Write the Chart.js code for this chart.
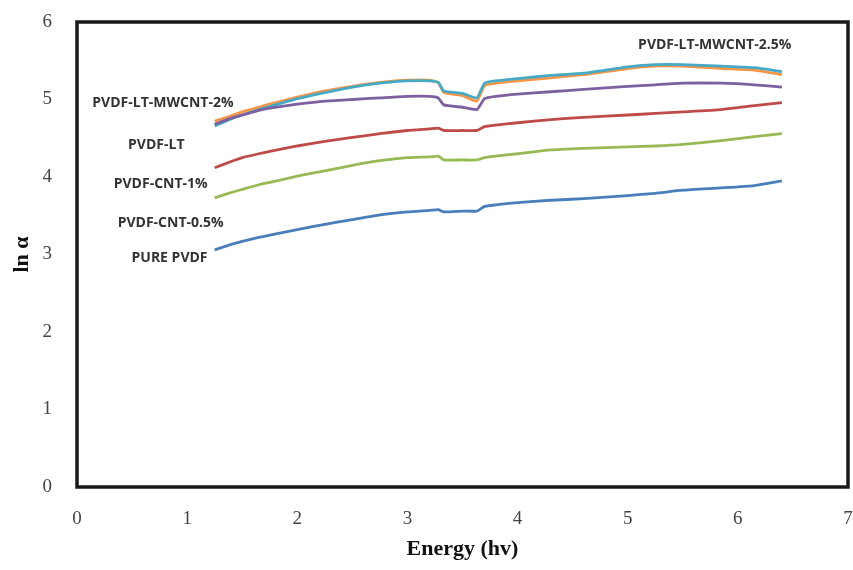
<!DOCTYPE html>
<html>
<head>
<meta charset="utf-8">
<script src="https://cdn.jsdelivr.net/npm/chart.js@4.4.1/dist/chart.umd.min.js"></script>
<style>
  html, body { margin: 0; padding: 0; background: #fff; }
  #wrap { width: 853px; height: 570px; }
</style>
</head>
<body>
<div id="wrap"><canvas id="absChart" width="853" height="570"></canvas></div>
<script>
// photon energy (eV), shared by every sample
const energy = [1.25, 1.4, 1.5, 1.65, 1.75, 2.0, 2.25, 2.5, 2.75, 3.0, 3.2, 3.28, 3.33, 3.5, 3.63, 3.7, 3.8, 4.0, 4.3, 4.6, 5.0, 5.25, 5.5, 5.85, 6.15, 6.4];

// ln(alpha) per sample
const purePvdf = [3.06, 3.13, 3.17, 3.22, 3.25, 3.32, 3.39, 3.45, 3.51, 3.55, 3.57, 3.58, 3.55, 3.56, 3.56, 3.62, 3.64, 3.67, 3.70, 3.72, 3.76, 3.79, 3.83, 3.86, 3.89, 3.95];
const pvdfCnt05 = [3.73, 3.80, 3.84, 3.90, 3.93, 4.01, 4.08, 4.15, 4.21, 4.25, 4.26, 4.27, 4.22, 4.22, 4.22, 4.25, 4.27, 4.30, 4.35, 4.37, 4.39, 4.40, 4.42, 4.47, 4.52, 4.56];
const pvdfCnt1 = [4.12, 4.20, 4.25, 4.30, 4.33, 4.40, 4.46, 4.51, 4.56, 4.60, 4.62, 4.63, 4.60, 4.60, 4.60, 4.65, 4.67, 4.70, 4.74, 4.77, 4.80, 4.82, 4.84, 4.87, 4.92, 4.96];
const pvdfLt = [4.68, 4.76, 4.80, 4.86, 4.89, 4.94, 4.98, 5.00, 5.02, 5.04, 5.04, 5.02, 4.93, 4.90, 4.87, 5.01, 5.04, 5.07, 5.10, 5.13, 5.17, 5.19, 5.21, 5.21, 5.19, 5.16];
const pvdfLtMw2 = [4.66, 4.75, 4.80, 4.87, 4.91, 5.01, 5.09, 5.16, 5.21, 5.24, 5.24, 5.22, 5.11, 5.08, 5.02, 5.21, 5.24, 5.27, 5.31, 5.34, 5.42, 5.45, 5.45, 5.43, 5.41, 5.36];
const pvdfLtMw25 = [4.72, 4.79, 4.84, 4.90, 4.94, 5.03, 5.11, 5.17, 5.22, 5.25, 5.25, 5.22, 5.09, 5.05, 4.98, 5.18, 5.21, 5.24, 5.28, 5.32, 5.40, 5.43, 5.43, 5.40, 5.38, 5.32];

const sampleNames = ['PURE PVDF', 'PVDF-CNT-0.5%', 'PVDF-CNT-1%', 'PVDF-LT', 'PVDF-LT-MWCNT-2%', 'PVDF-LT-MWCNT-2.5%'];
const sampleSeries = [purePvdf, pvdfCnt05, pvdfCnt1, pvdfLt, pvdfLtMw2, pvdfLtMw25];
const lineColors = ['#4a7ebb', '#98b954', '#be4b48', '#7d60a0', '#46aac5', '#f79646'];

// where each curve name is written, in axis units
const nameSpots = [
  { text: 'PURE PVDF', x: 0.84, y: 2.95 },
  { text: 'PVDF-CNT-0.5%', x: 0.85, y: 3.41 },
  { text: 'PVDF-CNT-1%', x: 0.76, y: 3.91 },
  { text: 'PVDF-LT', x: 0.72, y: 4.41 },
  { text: 'PVDF-LT-MWCNT-2%', x: 0.78, y: 4.95 },
  { text: 'PVDF-LT-MWCNT-2.5%', x: 5.79, y: 5.70 }
];

const toPoints = (ys) => ys.map((y, i) => ({ x: energy[i], y: y }));

// thick box round the plot and the curve names
const frameAndNames = {
  id: 'frameAndNames',
  afterDatasetsDraw(chart) {
    const { ctx, chartArea: a, scales } = chart;
    ctx.save();
    ctx.strokeStyle = '#1a1a1a';
    ctx.lineWidth = 3.5;
    ctx.strokeRect(a.left, a.top, a.right - a.left, a.bottom - a.top);

    ctx.fillStyle = '#333';
    ctx.font = 'bold 14px "Open Sans", sans-serif';
    ctx.textAlign = 'center';
    ctx.textBaseline = 'middle';
    nameSpots.forEach(n => {
      ctx.fillText(n.text, scales.x.getPixelForValue(n.x), scales.y.getPixelForValue(n.y));
    });
    ctx.restore();
  }
};

const ctx = document.getElementById('absChart').getContext('2d');

const absChart = new Chart(ctx, {
  type: 'line',
  data: {
    datasets: sampleSeries.map((ys, i) => ({
      label: sampleNames[i],
      data: toPoints(ys),
      borderColor: lineColors[i],
      backgroundColor: lineColors[i],
      borderWidth: 2.8,
      pointRadius: 0,
      tension: 0.15,
      fill: false
    }))
  },
  options: {
    responsive: false,
    animation: false,
    layout: { padding: { top: 22, right: 5, left: 0, bottom: 0 } },
    plugins: {
      legend: { display: false },
      tooltip: { enabled: false }
    },
    scales: {
      x: {
        type: 'linear',
        min: 0,
        max: 7,
        afterFit: (s) => { s.height = 83; s.paddingLeft = 0; s.paddingRight = 0; },
        grid: { display: false, drawTicks: false },
        border: { display: false },
        ticks: {
          stepSize: 1,
          padding: 21,
          color: '#444',
          font: { family: '"Liberation Serif", "Times New Roman", serif', size: 19 }
        },
        title: {
          display: true,
          text: 'Energy (hv)',
          color: '#111',
          padding: { top: 0, bottom: 7 },
          font: { family: '"Liberation Serif", "Times New Roman", serif', size: 22, weight: 'bold' }
        }
      },
      y: {
        min: 0,
        max: 6,
        afterFit: (s) => { s.width = 77; s.paddingTop = 0; s.paddingBottom = 0; },
        grid: { display: false, drawTicks: false },
        border: { display: false },
        ticks: {
          stepSize: 1,
          padding: 25,
          color: '#444',
          font: { family: '"Liberation Serif", "Times New Roman", serif', size: 19 }
        },
        title: {
          display: true,
          text: 'ln α',
          color: '#111',
          padding: { top: 9, bottom: 0 },
          font: { family: '"Liberation Serif", "Times New Roman", serif', size: 22, weight: 'bold' }
        }
      }
    }
  },
  plugins: [frameAndNames]
});
</script>
</body>
</html>
